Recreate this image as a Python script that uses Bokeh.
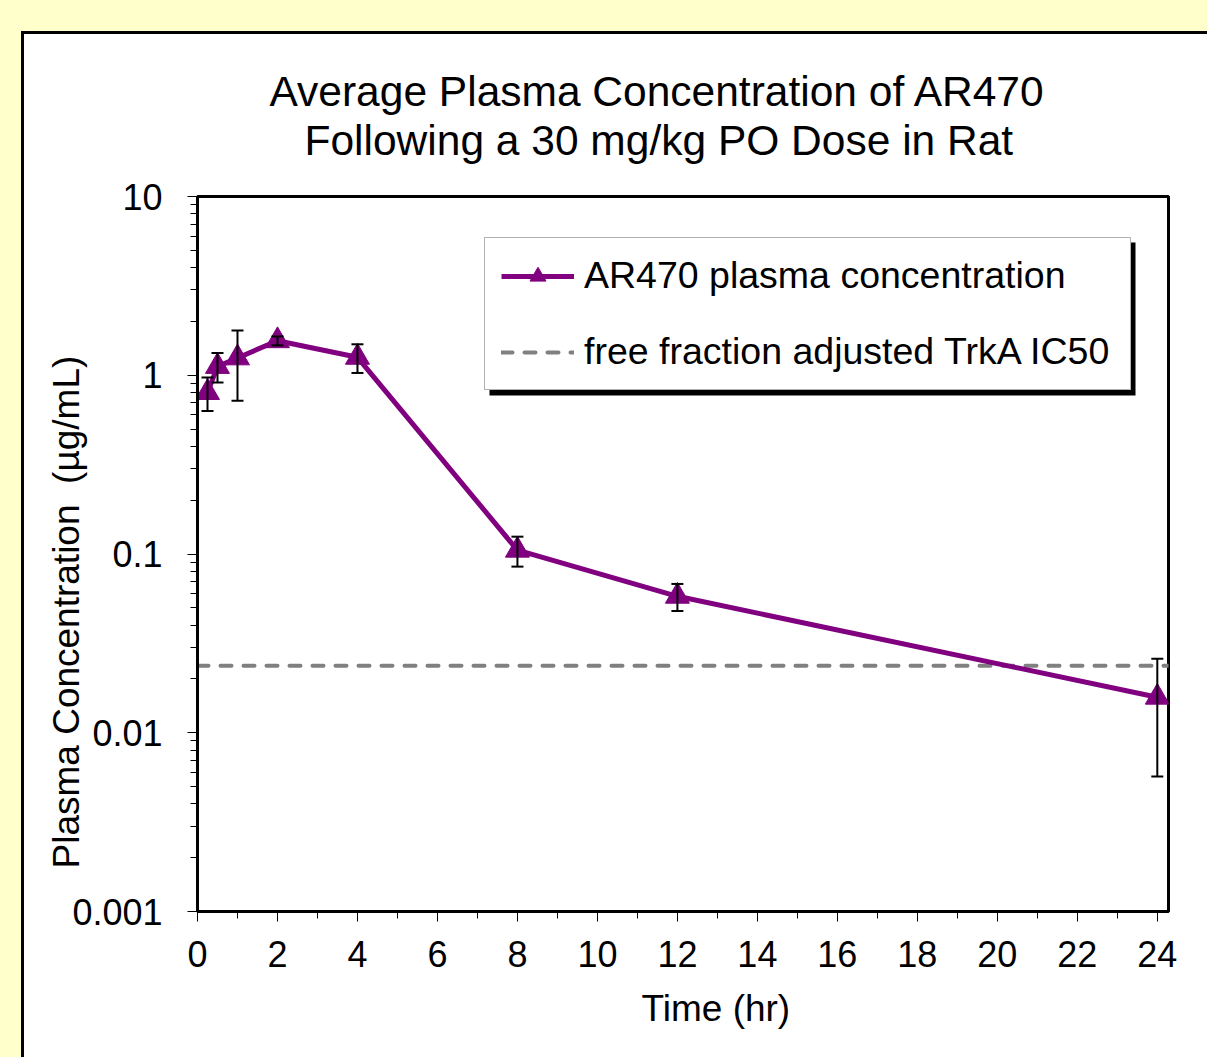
from bokeh.plotting import figure
from bokeh.models import (ColumnDataSource, Whisker, TeeHead, FixedTicker, Range1d,
                          BoxAnnotation, Legend, Title)
from bokeh.embed import file_html
from bokeh.resources import INLINE

# ---------------- data ----------------
time_hr = [0.25, 0.5, 1, 2, 4, 8, 12, 24]
conc = [0.80, 1.12, 1.25, 1.56, 1.26, 0.105, 0.058, 0.0158]
conc_err = [0.17, 0.21, 0.53, 0.09, 0.23, 0.020, 0.010, 0.0101]
ic50_free = 0.0237

x_ticks = [0, 2, 4, 6, 8, 10, 12, 14, 16, 18, 20, 22, 24]
x_minor = [1, 3, 5, 7, 9, 11, 13, 15, 17, 19, 21, 23]
y_ticks = [0.001, 0.01, 0.1, 1, 10]
y_tick_labels = ["0.001", "0.01", "0.1", "1", "10"]
y_minor = [0.002, 0.003, 0.004, 0.005, 0.006, 0.007, 0.008, 0.009,
           0.02, 0.03, 0.04, 0.05, 0.06, 0.07, 0.08, 0.09,
           0.2, 0.3, 0.4, 0.5, 0.6, 0.7, 0.8, 0.9,
           2, 3, 4, 5, 6, 7, 8, 9]

X_START, X_END = 0, 24.28
Y_START, Y_END = 0.001, 10

title_lines = ["Average Plasma Concentration of AR470",
               "Following a 30 mg/kg PO Dose in Rat"]
x_title = "Time (hr)"
y_title = "Plasma Concentration \u00a0(\u00b5g/mL)"
series_name = "AR470 plasma concentration"
ic50_name = "free fraction adjusted TrkA IC50"

FONT = "Liberation Sans"
PURPLE = "#800080"
YELLOW = "#FFFFCC"

# ---------------- figure ----------------
p = figure(x_range=Range1d(X_START, X_END), y_range=Range1d(Y_START, Y_END),
           y_axis_type="log", frame_width=971, frame_height=715,
           min_border_left=197, min_border_right=39, min_border_top=196,
           min_border_bottom=146, toolbar_location=None, output_backend="svg",
           title=None)
p.border_fill_color = None
p.background_fill_color = "white"
p.outline_line_color = "black"
p.outline_line_width = 3
p.xgrid.visible = False
p.ygrid.visible = False

# legend shadow
shadow = BoxAnnotation(left=292, right=938, top=669, bottom=516,
                       left_units="screen", right_units="screen",
                       top_units="screen", bottom_units="screen",
                       fill_color="black", fill_alpha=1.0, line_alpha=0,
                       level="underlay")
p.add_layout(shadow)

# axes
xa = p.xaxis[0]
xa.ticker = FixedTicker(ticks=x_ticks, minor_ticks=x_minor)
ya = p.yaxis[0]
ya.ticker = FixedTicker(ticks=y_ticks, minor_ticks=y_minor)
ya.major_label_overrides = {t: l for t, l in zip(y_ticks, y_tick_labels)}
for ax in (xa, ya):
    ax.axis_line_width = 3
    ax.axis_line_color = "black"
    ax.major_tick_in = 0
    ax.major_tick_out = 10
    ax.minor_tick_in = 0
    ax.minor_tick_out = 7
    ax.major_tick_line_color = "black"
    ax.minor_tick_line_color = "black"
    ax.major_tick_line_width = 1
    ax.minor_tick_line_width = 1
    ax.major_label_text_font = FONT
    ax.major_label_text_font_size = "36px"
    ax.major_label_text_color = "black"
xa.major_label_standoff = 19
ya.major_label_standoff = 25

# data
lo = [c - e for c, e in zip(conc, conc_err)]
hi = [c + e for c, e in zip(conc, conc_err)]
src = ColumnDataSource(dict(t=time_hr, c=conc, lo=lo, hi=hi))

r_ic50 = p.line(x=[X_START, X_END], y=[ic50_free, ic50_free], line_color="#808080",
                line_width=4, line_dash="11 12", line_cap="round")
r_line = p.line("t", "c", source=src, line_color=PURPLE, line_width=5)
r_mark = p.scatter("t", "c", source=src, marker="triangle", size=24,
                   fill_color=PURPLE, line_color=PURPLE)

wh = Whisker(source=src, base="t", upper="hi", lower="lo",
             line_color="black", line_width=2, level="overlay",
             upper_head=TeeHead(size=12, line_width=2, line_color="black"),
             lower_head=TeeHead(size=12, line_width=2, line_color="black"))
p.add_layout(wh)

legend = Legend(items=[(series_name, [r_line, r_mark]), (ic50_name, [r_ic50])],
                location=(287, 521), margin=0, padding=16, spacing=33,
                glyph_width=73, glyph_height=40, label_height=40, label_width=530,
                label_standoff=10, label_text_font=FONT,
                label_text_font_size="37.5px", label_text_color="black",
                border_line_color="#666666", border_line_width=1,
                background_fill_color="white", background_fill_alpha=1.0)
p.add_layout(legend)

# titles (added nearest-first)
t2 = Title(text=title_lines[1], align="left", offset=107, standoff=66,
           text_font=FONT, text_font_size="42.5px", text_font_style="normal",
           text_color="black")
t1 = Title(text=title_lines[0], align="left", offset=72, standoff=-67,
           text_font=FONT, text_font_size="42.5px", text_font_style="normal",
           text_color="black")
p.add_layout(t2, "above")
p.add_layout(t1, "above")

tx = Title(text=x_title, align="left", offset=444, standoff=32,
           text_font=FONT, text_font_size="37px", text_font_style="normal",
           text_color="black")
p.add_layout(tx, "below")
ty = Title(text=y_title, align="left", offset=43, standoff=-34,
           text_font=FONT, text_font_size="37px", text_font_style="normal",
           text_color="black")
p.add_layout(ty, "left")

html = file_html(p, INLINE)
css = ("<style>html{overflow:hidden;background:"
       "linear-gradient(#ffffff,#ffffff) 24px 34px/100% 100% no-repeat,"
       "linear-gradient(#000000,#000000) 21px 31px/100% 100% no-repeat,"
       "#FFFFCC;}body{overflow:hidden;}</style>")
html = html.replace("<head>", "<head>" + css, 1)
open("out.html", "w").write(html)
